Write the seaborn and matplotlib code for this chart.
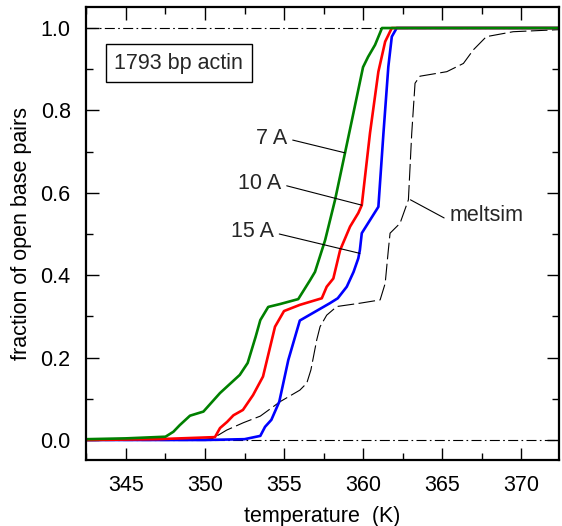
import numpy as np
import pandas as pd
import seaborn as sns
import matplotlib.pyplot as plt
from matplotlib.ticker import MultipleLocator

# Data
green_t = [342.5, 345.0, 347.5, 348.0, 348.4, 349.05, 349.9, 350.95, 352.2, 352.7,
           353.2, 353.5, 354.0, 354.75, 355.9, 356.65, 356.96, 357.6, 358.23, 358.86,
           359.3, 360.0, 360.32, 360.76, 361.2, 372.4]
green_f = [0.002, 0.004, 0.008, 0.02, 0.036, 0.059, 0.069, 0.114, 0.158, 0.187,
           0.25, 0.291, 0.323, 0.33, 0.342, 0.388, 0.408, 0.485, 0.583, 0.697,
           0.777, 0.905, 0.93, 0.959, 1.0, 1.0]

red_t = [342.5, 347.0, 350.63, 350.95, 351.4, 351.8, 352.4, 353.04, 353.67, 354.43,
         355.0, 356.0, 357.39, 357.7, 358.12, 358.55, 359.18, 359.7, 359.92, 360.44,
         360.97, 361.4, 361.82, 372.4]
red_f = [0.0, 0.002, 0.007, 0.029, 0.044, 0.06, 0.073, 0.109, 0.154, 0.275,
         0.313, 0.328, 0.344, 0.372, 0.392, 0.461, 0.518, 0.551, 0.570, 0.745,
         0.894, 0.967, 1.0, 1.0]

blue_t = [342.5, 350.0, 352.5, 353.5, 353.8, 354.2, 354.7, 355.27, 356.0, 357.9,
          358.4, 358.97, 359.4, 359.7, 359.8, 359.92, 360.97, 361.29, 361.6, 361.82,
          362.13, 372.4]
blue_f = [0.0, 0.0, 0.002, 0.01, 0.032, 0.049, 0.093, 0.194, 0.29, 0.332,
          0.344, 0.372, 0.408, 0.441, 0.461, 0.502, 0.566, 0.744, 0.906, 0.979,
          1.0, 1.0]

meltsim_t = [349.5, 350.5, 351.37, 352.43, 353.5, 354.75, 356.0, 356.44, 356.7, 357.07,
             357.28, 357.7, 358.34, 359.8, 361.08, 361.4, 361.6, 361.71, 362.34, 362.87,
             363.08, 363.29, 363.6, 365.3, 366.35, 366.98, 367.8, 369.5, 372.4]
meltsim_f = [0.0, 0.004, 0.024, 0.042, 0.058, 0.093, 0.121, 0.138, 0.17, 0.243,
             0.275, 0.303, 0.324, 0.332, 0.340, 0.38, 0.461, 0.502, 0.526, 0.583,
             0.744, 0.866, 0.883, 0.894, 0.914, 0.947, 0.979, 0.991, 0.996]

sns.set_style("ticks")
plt.rcParams['font.family'] = ['Liberation Sans', 'DejaVu Sans']
fs = 15.5

fig = plt.figure(figsize=(5.62, 5.26), dpi=100)
ax = fig.add_axes([0.153, 0.1255, 0.8417, 0.8612])

# reference lines at 0 and 1
for yv in (0.0, 1.0):
    ax.axhline(yv, color='black', lw=0.8, ls=(0, (9, 3, 1.5, 3)), zorder=1)

sns.lineplot(x=meltsim_t, y=meltsim_f, ax=ax, color='black', lw=0.8,
             dashes=False, linestyle=(0, (15, 4)), sort=False, estimator=None)
sns.lineplot(x=blue_t, y=blue_f, ax=ax, color='#0000ff', lw=1.9, sort=False, estimator=None)
sns.lineplot(x=red_t, y=red_f, ax=ax, color='#ff0000', lw=1.9, sort=False, estimator=None)
sns.lineplot(x=green_t, y=green_f, ax=ax, color='#008000', lw=1.9, sort=False, estimator=None)

ax.set_xlim(342.47, 372.4)
ax.set_ylim(-0.0485, 1.051)

ax.xaxis.set_major_locator(MultipleLocator(5))
ax.xaxis.set_minor_locator(MultipleLocator(2.5))
ax.yaxis.set_major_locator(MultipleLocator(0.2))
ax.yaxis.set_minor_locator(MultipleLocator(0.1))
ax.yaxis.set_major_formatter(plt.FormatStrFormatter('%.1f'))

ax.tick_params(which='both', direction='in', top=True, right=True, width=1.0,
               labelsize=fs, pad=11, color='black', labelcolor='black')
ax.tick_params(which='major', length=9)
ax.tick_params(which='minor', length=5)

for sp in ax.spines.values():
    sp.set_linewidth(1.6)
    sp.set_color('black')

ax.set_xlabel('temperature  (K)', fontsize=fs, color='black', labelpad=7)
ax.set_ylabel('fraction of open base pairs', fontsize=fs, color='black', labelpad=6)

# label box
ax.text(348.35, 0.915, '1793 bp actin', fontsize=fs, ha='center', va='center',
        bbox=dict(boxstyle='square,pad=0.4', fc='white', ec='black', lw=1.0))

# curve labels with leader lines
labels = [('7 A', (355.55, 0.728), (358.86, 0.697), 'right'),
          ('10 A', (355.17, 0.617), (359.92, 0.570), 'right'),
          ('15 A', (354.7, 0.50), (359.8, 0.453), 'right'),
          ('meltsim', (365.13, 0.539), (363.0, 0.583), 'left')]
for txt, start, end, ha in labels:
    ax.plot([start[0], end[0]], [start[1], end[1]], color='black', lw=0.8)
    off = -0.35 if ha == 'right' else 0.35
    ax.text(start[0] + off, start[1] + 0.005, txt, fontsize=fs, ha=ha, va='center')

fig.savefig('out.png', dpi=100)
